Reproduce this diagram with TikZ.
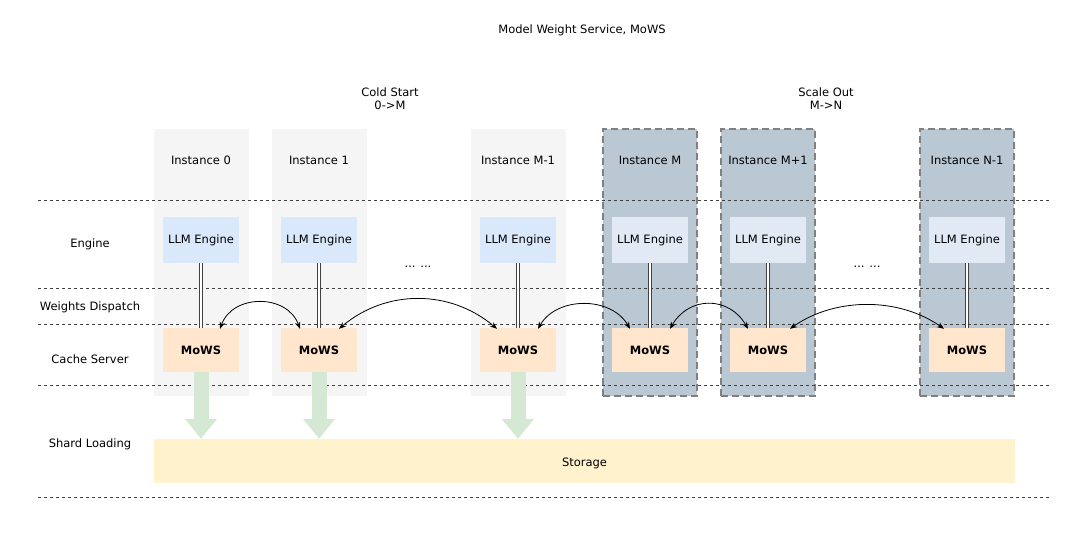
\documentclass[tikz,border=0pt]{standalone}
\usepackage{fontspec}
\setmainfont{DejaVu Sans}
\usetikzlibrary{arrows.meta}
\definecolor{colgray}{HTML}{F5F5F5}
\definecolor{colblue}{HTML}{BAC8D3}
\definecolor{engblue}{HTML}{DAE8FC}
\definecolor{engblue2}{HTML}{E0E9F4}
\definecolor{mowsorange}{HTML}{FFE6CC}
\definecolor{storyellow}{HTML}{FFF2CC}
\definecolor{arrgreen}{HTML}{D5E8D4}
\tikzset{
  txt/.style={font=\fontsize{11.5}{13}\selectfont, inner sep=0pt, align=center},
  colbox/.style={fill=colgray, draw=none, minimum width=95, minimum height=267, inner sep=0pt},
  newcol/.style={fill=colblue, draw=black!50, line width=1.3pt, dash pattern=on 7pt off 4pt, minimum width=94, minimum height=267, inner sep=0pt},
  engbox/.style={fill=engblue, draw=none, minimum width=76, minimum height=46, inner sep=0pt, font=\fontsize{11.5}{13}\selectfont},
  engbox2/.style={engbox, fill=engblue2},
  mowsbox/.style={fill=mowsorange, draw=none, minimum width=76, minimum height=44, inner sep=0pt, font=\bfseries\fontsize{11.5}{13}\selectfont},
  layerline/.style={draw=black!75, line width=0.8pt, dash pattern=on 3pt off 3pt},
  dbl/.style={draw=black!75, double=white, double distance=2.6pt, line width=0.8pt},
  swap/.style={{Stealth[length=7pt,width=5.5pt]}-{Stealth[length=7pt,width=5.5pt]}, line width=0.8pt, black},
  loadarrow/.style={draw=arrgreen, line width=15pt, -{Triangle[width=31pt,length=20pt]}}
}
\begin{document}
\begin{tikzpicture}[x=1pt,y=-1pt]
\useasboundingbox (0,0) rectangle (1080,541);
\fill[white] (0,0) rectangle (1080,541);

% title and phase labels
\node[txt] (title) at (582,30) {Model Weight Service, MoWS};
\node[txt] (cold) at (390,99) {Cold Start\\0->M};
\node[txt] (scale) at (826,99) {Scale Out\\M->N};

% instance columns
\node[colbox] (c0) at (201,262.5) {};
\node[colbox] (c1) at (319,262.5) {};
\node[colbox] (c2) at (518,262.5) {};
\node[newcol] (c3) at (650,262.5) {};
\node[newcol] (c4) at (768,262.5) {};
\node[newcol] (c5) at (967,262.5) {};

\node[txt] (i0) at (201,160) {Instance 0};
\node[txt] (i1) at (319,160) {Instance 1};
\node[txt] (i2) at (518,160) {Instance M-1};
\node[txt] (i3) at (650,160) {Instance M};
\node[txt] (i4) at (768,160) {Instance M+1};
\node[txt] (i5) at (967,160) {Instance N-1};

% layer separators
\coordinate (l1a) at (38,200);  \coordinate (l1b) at (1050,200);
\coordinate (l2a) at (38,288);  \coordinate (l2b) at (1050,288);
\coordinate (l3a) at (38,324);  \coordinate (l3b) at (1050,324);
\coordinate (l4a) at (38,385);  \coordinate (l4b) at (1050,385);
\coordinate (l5a) at (38,497);  \coordinate (l5b) at (1050,497);
\draw[layerline] (l1a) -- (l1b);
\draw[layerline] (l2a) -- (l2b);
\draw[layerline] (l3a) -- (l3b);
\draw[layerline] (l4a) -- (l4b);
\draw[layerline] (l5a) -- (l5b);

% layer labels
\node[txt] (lab1) at (90,244) {Engine};
\node[txt] (lab2) at (90,307) {Weights Dispatch};
\node[txt] (lab3) at (90,359) {Cache Server};
\node[txt] (lab4) at (90,444) {Shard Loading};

% engines
\node[engbox] (e0) at (201,240) {LLM Engine};
\node[engbox] (e1) at (319,240) {LLM Engine};
\node[engbox] (e2) at (518,240) {LLM Engine};
\node[engbox2] (e3) at (650,240) {LLM Engine};
\node[engbox2] (e4) at (768,240) {LLM Engine};
\node[engbox2] (e5) at (967,240) {LLM Engine};

% MoWS cache servers
\node[mowsbox] (m0) at (201,350) {MoWS};
\node[mowsbox] (m1) at (319,350) {MoWS};
\node[mowsbox] (m2) at (518,350) {MoWS};
\node[mowsbox] (m3) at (650,350) {MoWS};
\node[mowsbox] (m4) at (768,350) {MoWS};
\node[mowsbox] (m5) at (967,350) {MoWS};

% engine <-> MoWS links
\foreach \i in {0,...,5} {
  \draw[dbl] (e\i.south) -- (m\i.north);
}

% ellipses
\node[txt] (dots1) at (418,267) {... ...};
\node[txt] (dots2) at (867,267) {... ...};

% storage
\node[fill=storyellow, draw=none, minimum width=861, minimum height=44, inner sep=0pt] (st) at (584.5,461) {};
\node[txt] (stl) at (584.5,463) {Storage};

% shard loading arrows
\draw[loadarrow] (m0.south) -- (m0.south |- st.north);
\draw[loadarrow] (m1.south) -- (m1.south |- st.north);
\draw[loadarrow] (m2.south) -- (m2.south |- st.north);

% weights dispatch arrows
\draw[swap] ([xshift=19pt,yshift=-1pt]m0.north) to[out=70,in=110,looseness=1.2] ([xshift=-19pt,yshift=-1pt]m1.north);
\draw[swap] ([xshift=20pt,yshift=-1pt]m1.north) to[out=40,in=140,looseness=1] ([xshift=-21pt,yshift=-1pt]m2.north);
\draw[swap] ([xshift=20pt,yshift=-1pt]m2.north) to[out=60,in=120,looseness=1.05] ([xshift=-20pt,yshift=-1pt]m3.north);
\draw[swap] ([xshift=20pt,yshift=-1pt]m3.north) to[out=60,in=120,looseness=1.25] ([xshift=-20pt,yshift=-1pt]m4.north);
\draw[swap] ([xshift=22pt,yshift=-1pt]m4.north) to[out=35,in=145,looseness=0.92] ([xshift=-23pt,yshift=-1pt]m5.north);
\end{tikzpicture}
\end{document}
